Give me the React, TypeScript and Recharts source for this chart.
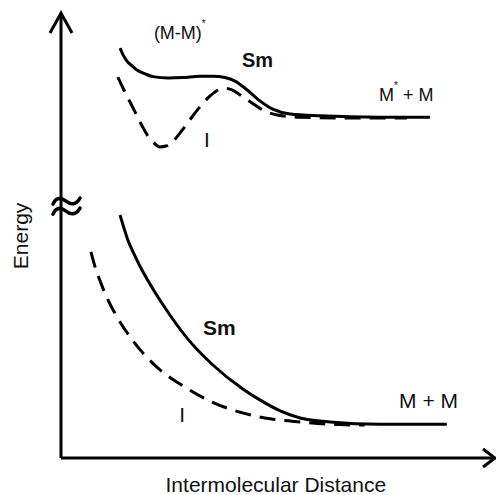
import { Line, LineChart, ReferenceDot, XAxis, YAxis } from "recharts";

const FONT = "'Liberation Sans', Arial, sans-serif";

// excited pair: Sm (solid) and I (dashed) potential curves
const excitedSmDist = [1.36, 1.43, 1.52, 1.64, 1.75, 1.94, 2.12, 2.47, 2.81, 3.2, 3.5, 3.78, 4.01, 4.29, 4.59, 4.88, 5.28, 5.97, 7.35, 8.5];
const excitedSmEnergy = [9.21, 9.06, 8.92, 8.81, 8.72, 8.63, 8.57, 8.54, 8.55, 8.58, 8.58, 8.55, 8.47, 8.27, 8.02, 7.84, 7.73, 7.69, 7.66, 7.66];
const excitedIDist = [1.31, 1.45, 1.59, 1.73, 1.87, 2.0, 2.14, 2.28, 2.42, 2.56, 2.74, 2.97, 3.2, 3.43, 3.62, 3.78, 3.94, 4.17, 4.4, 4.65, 4.98, 5.51, 6.66, 7.97];
const excitedIEnergy = [8.56, 8.27, 8.0, 7.73, 7.46, 7.24, 7.08, 6.99, 7.01, 7.1, 7.3, 7.6, 7.89, 8.13, 8.27, 8.31, 8.27, 8.13, 7.98, 7.82, 7.71, 7.66, 7.64, 7.64];

// ground pair
const groundSmDist = [1.36, 1.45, 1.54, 1.66, 1.82, 2.05, 2.4, 2.9, 3.5, 4.19, 4.59, 5.05, 5.51, 6.2, 7.35, 8.89];
const groundSmEnergy = [5.46, 5.17, 4.9, 4.63, 4.31, 3.91, 3.37, 2.7, 2.09, 1.55, 1.3, 1.06, 0.9, 0.81, 0.76, 0.76];
const groundIDist = [0.69, 0.78, 0.9, 1.06, 1.29, 1.66, 2.21, 2.81, 3.43, 4.12, 4.82, 5.51, 6.43, 7.0];
const groundIEnergy = [4.63, 4.31, 3.98, 3.6, 3.17, 2.63, 2.04, 1.62, 1.28, 1.03, 0.88, 0.81, 0.75, 0.74];

const toPoints = (xs: number[], ys: number[]) => xs.map((d, i) => ({ d, e: ys[i] }));

const curves = [
  { key: "excitedSm", data: toPoints(excitedSmDist, excitedSmEnergy), dash: undefined },
  { key: "excitedI", data: toPoints(excitedIDist, excitedIEnergy), dash: "16 9" },
  { key: "groundSm", data: toPoints(groundSmDist, groundSmEnergy), dash: undefined },
  { key: "groundI", data: toPoints(groundIDist, groundIEnergy), dash: "16 9" },
];

type DotProps = { cx?: number; cy?: number };

const textStyle = { fontFamily: FONT, fill: "#111" };

function note(x: number, y: number, render: (cx: number, cy: number) => JSX.Element) {
  return (
    <ReferenceDot
      x={x}
      y={y}
      r={0}
      ifOverflow="visible"
      shape={(p: DotProps) => render(p.cx ?? 0, p.cy ?? 0)}
    />
  );
}

export default function App() {
  return (
    <div style={{ position: "absolute", left: 0, top: 0 }}>
      <LineChart width={496} height={495} margin={{ top: 13, right: 1, bottom: 0, left: 0 }}>
        <XAxis
          type="number"
          dataKey="d"
          domain={[0, 10]}
          allowDataOverflow
          height={37}
          tick={false}
          tickLine={false}
          axisLine={{ stroke: "#000", strokeWidth: 3 }}
        />
        <YAxis
          type="number"
          dataKey="e"
          domain={[0, 10]}
          allowDataOverflow
          width={61}
          tick={false}
          tickLine={false}
          axisLine={{ stroke: "#000", strokeWidth: 3 }}
        />
        {curves.map((c) => (
          <Line
            key={c.key}
            data={c.data}
            dataKey="e"
            type="monotone"
            stroke="#000"
            strokeWidth={3}
            strokeDasharray={c.dash}
            dot={false}
            activeDot={false}
            isAnimationActive={false}
          />
        ))}

        {/* arrow heads on both axes */}
        {note(0, 10, (cx, cy) => (
          <path d={`M${cx - 11},${cy + 20}L${cx},${cy}L${cx + 11},${cy + 20}`} fill="none" stroke="#000" strokeWidth={3} />
        ))}
        {note(10, 0, (cx, cy) => (
          <path d={`M${cx - 12},${cy - 9}L${cx},${cy}L${cx - 12},${cy + 9}`} fill="none" stroke="#000" strokeWidth={3} />
        ))}

        {/* axis break */}
        {note(0, 5.66, (cx, cy) => (
          <g fill="none" stroke="#000" strokeWidth={3.5} strokeLinecap="round">
            {[-5, 5].map((o) => (
              <path
                key={o}
                d={`M${cx - 8},${cy + o + 3}C${cx - 5},${cy + o - 4} ${cx},${cy + o - 4} ${cx + 5},${cy + o}S${cx + 15},${cy + o + 4} ${cx + 19},${cy + o - 3}`}
              />
            ))}
          </g>
        ))}

        {/* axis titles */}
        {note(4.95, -0.76, (cx, cy) => (
          <text x={cx} y={cy} textAnchor="middle" fontSize={21} {...textStyle}>
            Intermolecular Distance
          </text>
        ))}
        {note(-0.76, 4.99, (cx, cy) => (
          <text x={cx} y={cy} textAnchor="middle" fontSize={21} transform={`rotate(-90 ${cx} ${cy})`} {...textStyle}>
            Energy
          </text>
        ))}

        {/* curve labels */}
        {note(2.14, 9.42, (cx, cy) => (
          <text x={cx} y={cy} fontSize={18} {...textStyle}>
            (M-M)
            <tspan fontSize={10} dy={-12}>*</tspan>
          </text>
        ))}
        {note(4.17, 8.79, (cx, cy) => (
          <text x={cx} y={cy} fontSize={20} fontWeight="bold" {...textStyle}>
            Sm
          </text>
        ))}
        {note(7.33, 8.02, (cx, cy) => (
          <text x={cx} y={cy} fontSize={18} {...textStyle}>
            M<tspan fontSize={10} dy={-12}>*</tspan>
            <tspan dy={12}> + M</tspan>
          </text>
        ))}
        {note(3.36, 6.99, (cx, cy) => (
          <text x={cx} y={cy} textAnchor="middle" fontSize={21} {...textStyle}>
            I
          </text>
        ))}
        {note(3.27, 2.76, (cx, cy) => (
          <text x={cx} y={cy} fontSize={21} fontWeight="bold" {...textStyle}>
            Sm
          </text>
        ))}
        {note(2.79, 0.81, (cx, cy) => (
          <text x={cx} y={cy} textAnchor="middle" fontSize={21} {...textStyle}>
            I
          </text>
        ))}
        {note(7.79, 1.12, (cx, cy) => (
          <text x={cx} y={cy} fontSize={21} {...textStyle}>
            M + M
          </text>
        ))}
      </LineChart>
    </div>
  );
}
